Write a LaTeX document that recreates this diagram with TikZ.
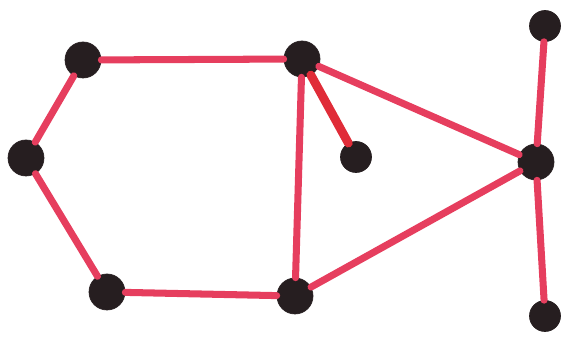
\documentclass[tikz,border=0pt]{standalone}
\usepackage{xcolor}
\usepackage{tikz}
\definecolor{edgered}{RGB}{230,62,94}
\definecolor{pendantred}{RGB}{224,44,56}
\definecolor{dotblack}{RGB}{38,30,32}

\begin{document}
\begin{tikzpicture}[
  x=0.02cm, y=-0.02cm,
  vertex/.style={circle, draw=dotblack, fill=dotblack, inner sep=0pt,
    minimum size=0.72cm},
  smallvertex/.style={vertex, minimum size=0.62cm},
  link/.style={draw=edgered, line width=4pt, line cap=round}
]
  \useasboundingbox (0,0) rectangle (561,337);
  \node[vertex] (topleft) at (83,60) {};
  \node[vertex] (topmid) at (302,59) {};
  \node[vertex] (left) at (26,158) {};
  \node[vertex] (botleft) at (107,292) {};
  \node[vertex] (botmid) at (295,296) {};
  \node[smallvertex] (pendant) at (356,157) {};
  \node[vertex] (hub) at (536,162) {};
  \node[smallvertex] (top) at (545,26) {};
  \node[smallvertex] (bottom) at (545,316) {};

  \path[link] (topleft) -- (topmid);
  \path[link] (topleft) -- (left);
  \path[link] (left) -- (botleft);
  \path[link] (botleft) -- (botmid);
  \path[link] (topmid) -- (botmid);
  \path[link, line width=5pt, draw=pendantred] (topmid) -- (pendant);
  \path[link] (topmid) -- (hub);
  \path[link] (botmid) -- (hub);
  \path[link] (hub) -- (top);
  \path[link] (hub) -- (bottom);
\end{tikzpicture}
\end{document}
